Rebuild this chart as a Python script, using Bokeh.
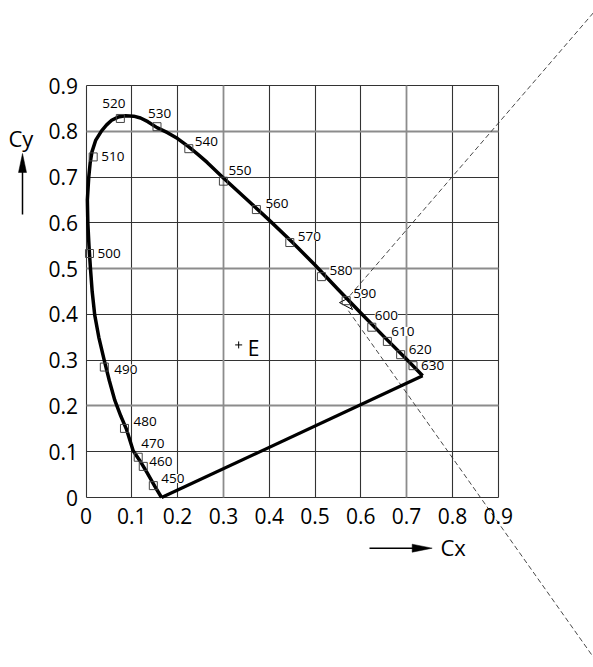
from bokeh.plotting import figure
from bokeh.models import (ColumnDataSource, LinearAxis, FixedTicker, Grid, Range1d,
                          CustomJSTickFormatter)
from bokeh.core.properties import value
from bokeh.embed import file_html
from bokeh.resources import INLINE

# ---------------- data ----------------
locus_x = [0.165, 0.150, 0.133, 0.118, 0.103, 0.088, 0.076, 0.063, 0.051, 0.040,
           0.028, 0.019, 0.0135, 0.0098, 0.0065, 0.004, 0.003, 0.006, 0.009, 0.013,
           0.021, 0.034, 0.045, 0.056, 0.070, 0.086, 0.104, 0.119, 0.135, 0.155,
           0.178, 0.200, 0.2245, 0.245, 0.2646, 0.300, 0.350, 0.400, 0.450, 0.500,
           0.550, 0.600, 0.650, 0.700, 0.735]
locus_y = [0.000, 0.025, 0.055, 0.080, 0.102, 0.150, 0.178, 0.212, 0.255, 0.299,
           0.350, 0.399, 0.450, 0.4995, 0.550, 0.600, 0.650, 0.700, 0.730, 0.755,
           0.780, 0.801, 0.814, 0.824, 0.831, 0.834, 0.833, 0.829, 0.821, 0.808,
           0.797, 0.784, 0.766, 0.749, 0.732, 0.698, 0.652, 0.606, 0.558, 0.508,
           0.455, 0.403, 0.352, 0.302, 0.266]
purple_x = [0.735, 0.165]
purple_y = [0.266, 0.000]

wl_labels = ["450", "460", "470", "480", "490", "500", "510", "520", "530", "540",
             "550", "560", "570", "580", "590", "600", "610", "620", "630"]
wl_x = [0.147, 0.125, 0.114, 0.084, 0.040, 0.0076, 0.0157, 0.075, 0.155, 0.2245,
        0.300, 0.372, 0.445, 0.514, 0.568, 0.624, 0.658, 0.687, 0.714]
wl_y = [0.026, 0.068, 0.088, 0.151, 0.285, 0.533, 0.744, 0.828, 0.810, 0.762,
        0.691, 0.629, 0.557, 0.4825, 0.430, 0.372, 0.341, 0.312, 0.288]

dash1_x = [0.565, 1.12]
dash1_y = [0.428, 1.073]
dash2_x = [0.573, 1.12]
dash2_y = [0.408, -0.366]
wedge_x = [0.5535, 0.5819, 0.5709]
wedge_y = [0.4258, 0.4105, 0.4345]

white_x = [1 / 3]
white_y = [1 / 3]
white_label = ["E"]

ticks = [0, 0.1, 0.2, 0.3, 0.4, 0.5, 0.6, 0.7, 0.8, 0.9]

# ---------------- style / layout ----------------
label_dx = [8, 6, 3, 9, 10, 8, 8, -18, -9, 6, 5, 9, 8, 8, 7, 3, 4, 8, 8]
label_dy = [-7, -5, -14, -7, 2, 0, 0, -15, -13, -7, -11, -6, -6, -6, -7, -12, -10, -5, 0]
gray_grid_x = [0.3, 0.7]
dark_grid_x = [t for t in ticks if t not in gray_grid_x]
gray_grid_y = [0.2, 0.5, 0.8]
dark_grid_y = [t for t in ticks if t not in gray_grid_y]

W, H = 593, 667
PXX, PXY = 458.0, 457.8
x0 = -85.5 / PXX
y1 = 0.9 + 85 / PXY


def X(px):
    return x0 + px / PXX


def Y(py):
    return y1 - py / PXY


p = figure(width=W, height=H, output_backend="svg", toolbar_location=None,
           x_range=Range1d(x0, x0 + W / PXX), y_range=Range1d(y1 - H / PXY, y1),
           x_axis_location=None, y_axis_location=None, min_border=0,
           outline_line_color=None, background_fill_color="white")
p.center = [r for r in p.center if not isinstance(r, Grid)]

fmt = CustomJSTickFormatter(code="return tick == 0 ? '0' : tick.toFixed(1)")
axis_style = dict(ticker=FixedTicker(ticks=ticks), formatter=fmt, fixed_location=0,
                  axis_line_color=None, major_tick_line_color=None, minor_tick_line_color=None,
                  major_label_text_font="Open Sans", major_label_text_font_size="21px",
                  major_label_text_color="black")
p.add_layout(LinearAxis(major_label_standoff=4, **axis_style), "below")
p.add_layout(LinearAxis(major_label_standoff=2, **axis_style), "left")

for dim, tk, col, lw in [(0, dark_grid_x, "#333333", 1.1), (1, dark_grid_y, "#333333", 1.1),
                         (0, gray_grid_x, "#8c8c8c", 1.8), (1, gray_grid_y, "#8c8c8c", 1.8)]:
    p.add_layout(Grid(dimension=dim, ticker=FixedTicker(ticks=tk), bounds=(0, 0.9),
                      cross_bounds=(0, 0.9), grid_line_color=col, grid_line_width=lw))

# dashed construction lines
p.line(dash1_x, dash1_y, line_color="#333333", line_width=0.9, line_dash="5 3")
p.line(dash2_x, dash2_y, line_color="#333333", line_width=0.9, line_dash="5 3")
p.patch(wedge_x, wedge_y, fill_color="white", line_color="black", line_width=1)

# wavelength labels
src = ColumnDataSource(dict(x=wl_x, y=wl_y, text=wl_labels, dx=label_dx, dy=label_dy))
p.text("x", "y", text="text", source=src, x_offset="dx", y_offset="dy",
       text_font=value("Open Sans"), text_font_size="13.5px", text_color="black",
       text_baseline="middle", text_align="left", background_fill_color="white")

# spectral locus and purple line
p.line(locus_x, locus_y, line_color="black", line_width=3.5, line_join="round")
p.line(purple_x, purple_y, line_color="black", line_width=3.2, line_join="round")
p.scatter(wl_x, wl_y, marker="square", size=8, fill_color=None,
          line_color="#444444", line_width=1)

# white point E
p.scatter(white_x, white_y, marker="cross", size=7, line_color="black", line_width=1)
p.text(white_x, white_y, text=white_label, x_offset=9, y_offset=3,
       text_font=value("Open Sans"), text_font_size="21px", text_baseline="middle",
       text_align="left", text_color="black")

# axis titles with arrows
cy_x, cy_tip = X(22), Y(153)
p.segment([cy_x], [Y(214)], [cy_x], [Y(168)], line_color="black", line_width=1.5)
p.patch([X(18), cy_x, X(26)], [Y(172), cy_tip, Y(172)],
        fill_color="black", line_color="black", line_width=0.5)
p.text([X(8)], [Y(137.5)], text=["Cy"], text_font=value("Open Sans"),
       text_font_size="22px", text_baseline="middle", text_align="left", text_color="black")

cx_y, cx_tip = Y(547.7), X(431.7)
p.segment([X(369)], [cx_y], [X(416)], [cx_y], line_color="black", line_width=1.5)
p.patch([X(411.7), cx_tip, X(411.7)], [Y(543.7), cx_y, Y(551.7)],
        fill_color="black", line_color="black", line_width=0.5)
p.text([X(440)], [Y(546)], text=["Cx"], text_font=value("Open Sans"),
       text_font_size="22px", text_baseline="middle", text_align="left", text_color="black")

open("out.html", "w").write(file_html(p, INLINE))
